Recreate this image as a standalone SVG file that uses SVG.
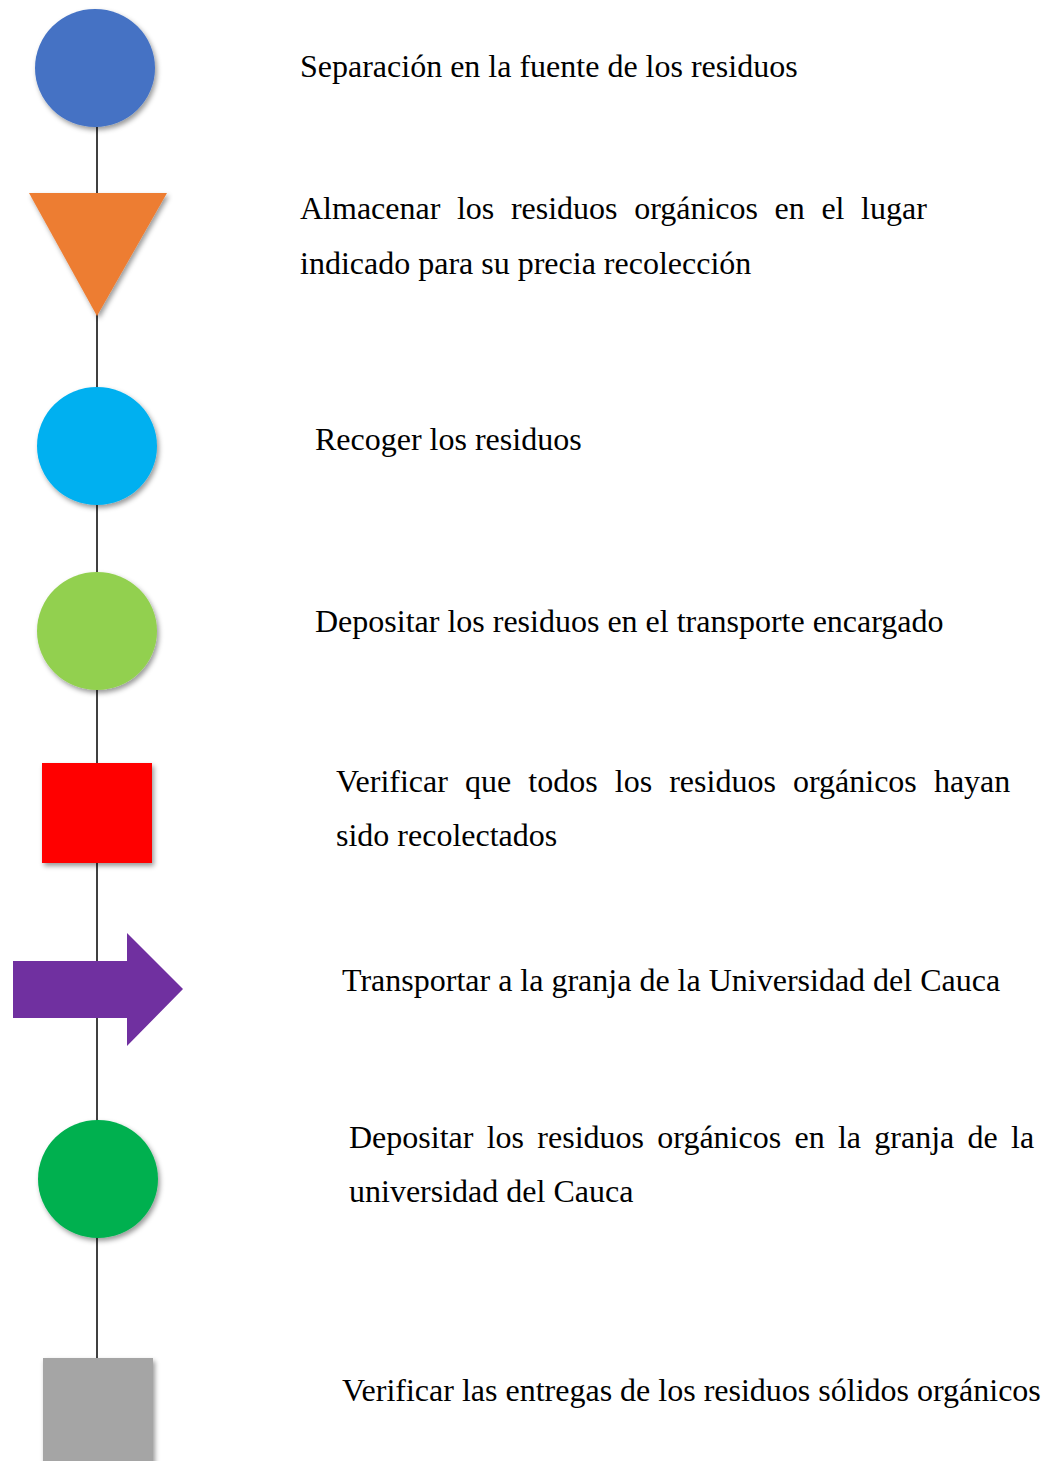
<svg xmlns="http://www.w3.org/2000/svg" width="1060" height="1461" viewBox="0 0 1060 1461">
<defs>
<filter id="sh" x="-20%" y="-20%" width="150%" height="150%">
<feDropShadow dx="2" dy="3" stdDeviation="2.5" flood-color="#000" flood-opacity="0.4"/>
</filter>
<style>
.t{font-family:"Liberation Serif","Times New Roman",serif;font-size:32px;fill:#000;}
.ln{stroke:#000;stroke-width:1.5;fill:none;}
.s{filter:url(#sh);}
</style>
</defs>
<rect width="1060" height="1461" fill="#fff"/>
<g id="connectors">
<line class="ln" x1="97" y1="127" x2="97" y2="1461"/>
</g>
<g id="n1"><ellipse class="s" cx="95" cy="68" rx="60" ry="59" fill="#4472C4"/>
<text class="t" x="300" y="77">Separación en la fuente de los residuos</text></g>
<g id="n2"><polygon class="s" points="29,193 167,193 97,316" fill="#ED7D31"/>
<text class="t" x="300" y="219" style="word-spacing:8.6px">Almacenar los residuos orgánicos en el lugar</text>
<text class="t" x="300" y="274">indicado para su precia recolección</text></g>
<g id="n3"><ellipse class="s" cx="97" cy="446" rx="60" ry="59" fill="#00B0F0"/>
<text class="t" x="315" y="450">Recoger los residuos</text></g>
<g id="n4"><ellipse class="s" cx="97" cy="631" rx="60" ry="59" fill="#92D050"/>
<text class="t" x="315" y="632">Depositar los residuos en el transporte encargado</text></g>
<g id="n5"><rect class="s" x="42" y="763" width="110" height="100" fill="#FF0000"/>
<text class="t" x="336" y="792" style="word-spacing:9.1px">Verificar que todos los residuos orgánicos hayan</text>
<text class="t" x="336" y="846">sido recolectados</text></g>
<g id="n6"><polygon points="13,961 127,961 127,933 183,989 127,1046 127,1018 13,1018" fill="#7030A0"/>
<text class="t" x="342" y="991">Transportar a la granja de la Universidad del Cauca</text></g>
<g id="n7"><ellipse class="s" cx="98" cy="1179" rx="60" ry="59" fill="#00B050"/>
<text class="t" x="349" y="1148" style="word-spacing:5.3px">Depositar los residuos orgánicos en la granja de la</text>
<text class="t" x="349" y="1202">universidad del Cauca</text></g>
<g id="n8"><rect class="s" x="43" y="1358" width="110" height="110" fill="#A5A5A5"/>
<text class="t" x="342" y="1401">Verificar las entregas de los residuos sólidos orgánicos</text></g>
</svg>
